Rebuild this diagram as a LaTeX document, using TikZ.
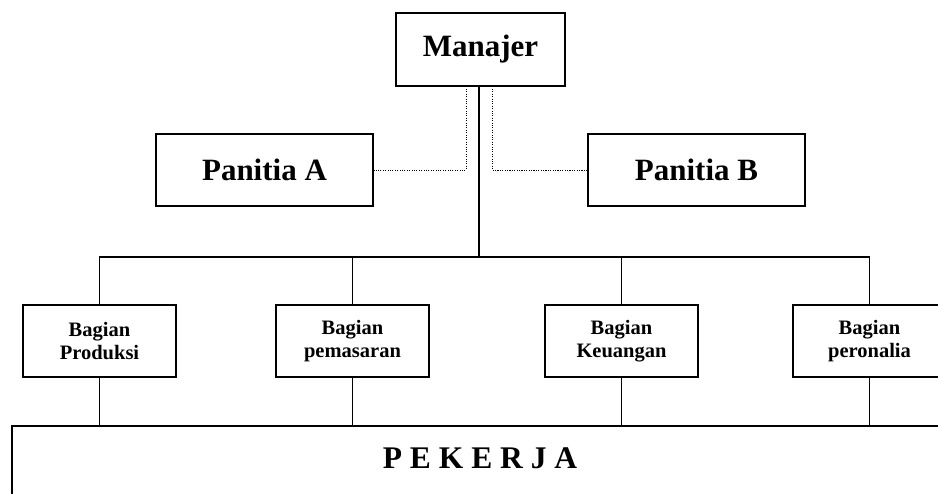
\documentclass[tikz,border=0pt]{standalone}
\usepackage{fontspec}
\setmainfont{Liberation Serif}
\begin{document}
\begin{tikzpicture}[x=1pt,y=-1pt,
  bigbox/.style={draw,line width=1.3pt,fill=white,inner sep=0pt,font=\bfseries\fontsize{31}{34}\selectfont},
  smallbox/.style={draw,line width=1.3pt,fill=white,inner sep=0pt,minimum width=153pt,minimum height=72pt,align=center,font=\bfseries\fontsize{20.5}{23.5}\selectfont},
  solidline/.style={line width=1.2pt},
  dotline/.style={line width=0.9pt,dash pattern=on 1.1pt off 1.3pt}]
\useasboundingbox (0,0) rectangle (938,494);
\clip (0,0) rectangle (938,494);
\fill[white] (0,0) rectangle (938,494);
% nodes
\node[bigbox,minimum width=169pt,minimum height=73pt] (man) at (480.5,49.5) {Manajer};
\node[bigbox,minimum width=217pt,minimum height=72pt] (pa) at (264.5,170) {Panitia A};
\node[bigbox,minimum width=217pt,minimum height=72pt] (pb) at (696.5,170) {Panitia B};
\node[smallbox] (b1) at (99.5,341) {Bagian\\Produksi};
\node[smallbox] (b2) at (352.5,341) {Bagian\\pemasaran};
\node[smallbox] (b3) at (621.5,341) {Bagian\\Keuangan};
\node[smallbox] (b4) at (869.5,341) {Bagian\\peronalia};
\node[draw,line width=1.3pt,fill=white,inner sep=0pt,minimum width=936pt,minimum height=84pt] (pek) at (480,468) {};
\node[inner sep=0pt,font=\bfseries\fontsize{31.5}{34}\selectfont] (pektext) at (480,458) {P E K E R J A};
% connectors
\coordinate (bus) at (479,257);
\draw[solidline] (man.south -| bus) -- (bus);
\draw[solidline] (b1.north) |- (bus) -| (b4.north);
\draw[solidline] (b2.north) -- (b2.north |- bus);
\draw[solidline] (b3.north) -- (b3.north |- bus);
\foreach \b in {b1,b2,b3,b4} {\draw[solidline] (\b.south) -- (\b.south |- pek.north);}
\coordinate (dl) at (466,89);
\coordinate (dr) at (492,89);
\draw[dotline] (dl) |- (pa.east);
\draw[dotline] (dr) |- (pb.west);
\end{tikzpicture}
\end{document}
